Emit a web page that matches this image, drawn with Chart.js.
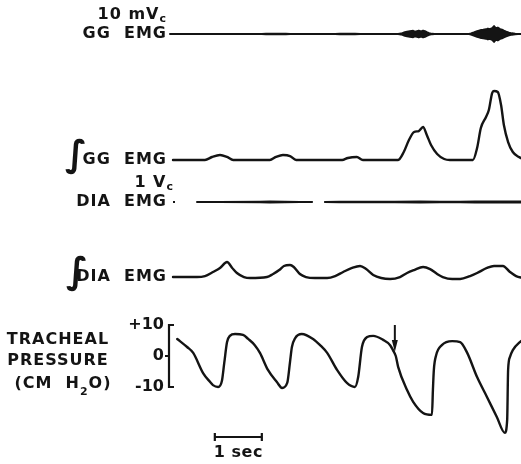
<!DOCTYPE html>
<html><head><meta charset="utf-8">
<script src="https://cdn.jsdelivr.net/npm/chart.js@4.4.1/dist/chart.umd.min.js"></script>
<style>html,body{margin:0;padding:0;background:#fff;overflow:hidden}canvas{display:block}</style>
</head><body>
<canvas id="c" width="521" height="464"></canvas>
<script>
// ---------- DATA (time in seconds) ----------
const ggEmgTime = [-0.06,1.89,1.98,2.11,2.23,2.40,2.49,3.45,3.55,3.72,3.87,3.98,4.79,4.85,4.91,4.98,5.04,5.11,5.15,5.19,5.23,5.28,5.32,5.36,5.40,5.45,5.51,5.57,6.28,6.34,6.40,6.47,6.53,6.60,6.66,6.70,6.74,6.79,6.83,6.87,6.91,6.96,7.00,7.04,7.09,7.15,7.21,7.28,7.34,7.45];
const ggEmgAmp  = [0,0,0.6,0.8,0.6,0.8,0,0,0.6,0.8,0.6,0,0,1.0,3.0,4.5,5.5,6.5,5.0,6.0,7.0,5.5,7.0,6.0,4.0,2.0,0.5,0,0,1.5,3.5,6.0,7.5,8.5,9.5,11,10,12,16,12,13,10,9,7,5,3,1.5,0.5,0,0]; // mV

const ggIntTime  = [0,0.68,0.83,1.0,1.15,1.28,2.06,2.19,2.34,2.49,2.62,3.60,3.72,3.91,4.04,4.79,4.91,5.02,5.13,5.23,5.32,5.40,5.49,5.62,5.77,5.89,6.38,6.47,6.55,6.66,6.72,6.79,6.83,6.91,6.98,7.04,7.13,7.23,7.36,7.45];
const ggIntValue = [0,0,0.43,0.71,0.43,0,0,0.43,0.71,0.57,0,0,0.29,0.43,0,0,1.14,2.86,4.0,4.14,4.71,3.57,2.14,0.86,0.14,0,0,1.71,4.57,6.14,7.14,9.57,9.86,9.71,7.86,5.0,2.57,1.14,0.43,0.14];

const diaEmgTime = [0.51,1.0,1.85,2.06,2.38,2.70,2.83,2.96,3.05,3.23,3.55,3.98,4.72,5.26,5.68,6.11,6.43,6.96,7.45];
const diaEmgAmp  = [0.01,0.015,0.02,0.03,0.025,0.01,0.005,0.005,null,0.01,0.02,0.02,0.025,0.03,0.02,0.02,0.03,0.035,0.03]; // V

const diaIntTime  = [0,0.51,0.68,0.85,1.0,1.15,1.26,1.36,1.51,1.64,2.0,2.13,2.26,2.36,2.49,2.57,2.70,2.83,3.02,3.28,3.45,3.62,3.81,3.98,4.11,4.26,4.43,4.62,4.83,4.98,5.13,5.32,5.47,5.62,5.74,5.94,6.11,6.32,6.47,6.68,6.83,6.89,7.02,7.17,7.30,7.45];
const diaIntValue = [1.4,1.4,2.1,5.0,7.9,12.1,7.9,4.3,1.4,0.7,1.4,3.6,6.4,9.3,10.0,8.6,3.6,1.4,0.7,0.7,2.1,5.0,7.9,9.3,7.1,2.9,0.7,0,1.4,4.3,6.4,8.6,7.1,3.6,1.4,0,0,2.1,4.3,7.9,9.3,9.3,9.3,5.0,2.1,0.7];

const pressureTime  = [0.09,0.30,0.43,0.64,0.79,0.85,0.96,1.04,1.09,1.15,1.21,1.32,1.49,1.60,1.74,1.85,2.02,2.21,2.32,2.43,2.49,2.53,2.60,2.74,2.98,3.13,3.28,3.49,3.70,3.87,3.94,4.02,4.13,4.26,4.47,4.62,4.68,4.74,4.79,4.98,5.11,5.32,5.51,5.53,5.55,5.60,5.72,5.94,6.11,6.26,6.47,6.68,6.89,7.06,7.11,7.13,7.17,7.23,7.38,7.45];
const pressureValue = [5.5,2.9,1.0,-5.5,-8.4,-9.4,-10.0,-8.1,-2.3,4.5,6.5,7.1,6.8,5.5,3.5,1.0,-4.5,-8.4,-10.3,-8.7,-1.9,2.9,5.8,7.1,5.5,3.5,1.0,-4.5,-8.7,-10.0,-6.8,2.9,6.1,6.5,5.2,3.5,1.9,0,-3.5,-11.0,-14.8,-18.4,-19.0,-11.0,-4.5,0.3,3.5,4.8,4.5,1.0,-6.8,-13.2,-19.7,-24.8,-20.6,-4.5,-0.3,1.9,4.5,5.2]; // cm H2O

const pressureTicks      = [10, 0, -10];
const pressureTickLabels = ['+10', '0', '-10'];
const arrowTime = 4.72, arrowFromP = 10.0, arrowToP = 1.3;
const scaleBarStart = 0.89, scaleBarLength = 1; // seconds

// ---------- LAYOUT (positions / sizes / styles) ----------
const W = 521, H = 464;
const X0 = 173, PX_PER_S = 47;
const lanes = {
  yGG:    {zero: 34,  k: 0.5},
  yGGI:   {zero: 160, k: 7},
  yDIA:   {zero: 202, k: 20},
  yDIAI:  {zero: 279, k: 1.4},
  yP:     {zero: 356, k: 3.1}
};
const INK = '#141414';
const FONT = '"DejaVu Sans", sans-serif';
const FS = 16, LS = 1;

function laneAxis(l){ return {type:'linear', display:false, min:-(H-l.zero)/l.k, max:l.zero/l.k}; }
const pts = (ts, vs, s=1) => ts.map((t,i)=>({x:t, y: vs[i]==null ? null : s*vs[i]}));
const base = {pointRadius:0, borderColor:INK, backgroundColor:INK, fill:false, spanGaps:false, borderCapStyle:'round', borderJoinStyle:'round'};

const annot = {
  id:'annot',
  afterDraw(chart){
    const {ctx, scales} = chart;
    const x = scales.x;
    ctx.save();
    ctx.fillStyle = INK; ctx.strokeStyle = INK;
    const txt = (s, px, py, align, size=FS, ls=LS, weight='bold') => {
      ctx.font = `${weight} ${size}px ${FONT}`; ctx.letterSpacing = ls+'px';
      ctx.textAlign = align; ctx.textBaseline = 'middle'; ctx.fillText(s, px, py);
    };
    const withSub = (main, sub, right, mid) => {
      ctx.font = `bold 11px ${FONT}`; ctx.letterSpacing='0px';
      const sw = ctx.measureText(sub).width;
      ctx.textAlign='right'; ctx.textBaseline='alphabetic';
      ctx.fillText(sub, right, mid+7);
      txt(main, right-sw, mid, 'right');
    };
    const yG = scales.yGG.getPixelForValue(0);
    const yGI = scales.yGGI.getPixelForValue(0);
    const yD = scales.yDIA.getPixelForValue(0);
    const yDI = scales.yDIAI.getPixelForValue(diaIntValue[0]);
    const R = 167;
    // GG EMG
    withSub('10 mV', 'c', 166, yG-19);
    txt('GG  EMG', R, yG, 'right');
    // integrated GG
    txt('GG  EMG', R, yGI, 'right');
    txt('\u222B', 76, yGI-3, 'center', 36, 0);
    // DIA EMG
    withSub('1 V', 'c', 173, yD-19);
    txt('DIA  EMG', R, yD, 'right');
    ctx.fillRect(173, yD-1, 2, 2);
    // integrated DIA
    txt('DIA  EMG', R, yDI, 'right');
    txt('\u222B', 77, yDI-3, 'center', 36, 0);
    // pressure axis
    const yP = scales.yP;
    pressureTicks.forEach((v,i)=> txt(pressureTickLabels[i], 164, yP.getPixelForValue(v), 'right', FS, 0));
    const top = yP.getPixelForValue(pressureTicks[0]), bot = yP.getPixelForValue(pressureTicks[2]), mid = yP.getPixelForValue(0);
    ctx.lineWidth = 2.2; ctx.beginPath();
    ctx.moveTo(174, top); ctx.lineTo(169, top); ctx.lineTo(169, bot); ctx.lineTo(174, bot);
    ctx.moveTo(165, mid); ctx.lineTo(169, mid);
    ctx.stroke();
    txt('TRACHEAL', 58, 340, 'center');
    txt('PRESSURE', 58, 361, 'center');
    // (CM H2O)
    ctx.font = `bold ${FS}px ${FONT}`; ctx.letterSpacing=LS+'px';
    const a='(CM  H', b='O)';
    const wa = ctx.measureText(a).width, wb = ctx.measureText(b).width;
    ctx.font = `bold 11px ${FONT}`; ctx.letterSpacing='0px'; const ws = ctx.measureText('2').width + 1;
    let sx = 63 - (wa+wb+ws)/2;
    txt(a, sx, 384, 'left');
    ctx.font = `bold 11px ${FONT}`; ctx.textAlign='left'; ctx.textBaseline='alphabetic'; ctx.letterSpacing='0px';
    ctx.fillText('2', sx+wa, 395);
    txt(b, sx+wa+ws, 384, 'left');
    // arrow
    const ax = x.getPixelForValue(arrowTime);
    const ay0 = yP.getPixelForValue(arrowFromP), ay1 = yP.getPixelForValue(arrowToP);
    ctx.lineWidth = 2; ctx.beginPath(); ctx.moveTo(ax, ay0); ctx.lineTo(ax, ay1-8); ctx.stroke();
    ctx.beginPath(); ctx.moveTo(ax-3, ay1-12); ctx.lineTo(ax+3, ay1-12); ctx.lineTo(ax, ay1); ctx.closePath(); ctx.fill();
    // scale bar
    const bx0 = x.getPixelForValue(scaleBarStart), bx1 = x.getPixelForValue(scaleBarStart+scaleBarLength);
    const by = 437;
    ctx.lineWidth = 2.2; ctx.beginPath();
    ctx.moveTo(bx0, by); ctx.lineTo(bx1, by);
    ctx.moveTo(bx0, by-4); ctx.lineTo(bx0, by+4);
    ctx.moveTo(bx1, by-4); ctx.lineTo(bx1, by+4);
    ctx.stroke();
    txt('1 sec', (bx0+bx1)/2, 453, 'center', FS, 0.5);
    ctx.restore();
  }
};

new Chart(document.getElementById('c'), {
  type:'line',
  data:{ datasets:[
    {...base, data:pts(ggEmgTime, ggEmgAmp, 1),  yAxisID:'yGG', fill:'+1', borderWidth:1.8, tension:0},
    {...base, data:pts(ggEmgTime, ggEmgAmp, -1), yAxisID:'yGG', borderWidth:1.8, tension:0},
    {...base, data:pts(ggIntTime, ggIntValue),   yAxisID:'yGGI', borderWidth:2.4, cubicInterpolationMode:'monotone'},
    {...base, data:pts(diaEmgTime, diaEmgAmp, 1),  yAxisID:'yDIA', fill:'+1', borderWidth:1.6, tension:0},
    {...base, data:pts(diaEmgTime, diaEmgAmp, -1), yAxisID:'yDIA', borderWidth:1.6, tension:0},
    {...base, data:pts(diaIntTime, diaIntValue), yAxisID:'yDIAI', borderWidth:2.4, cubicInterpolationMode:'monotone'},
    {...base, data:pts(pressureTime, pressureValue), yAxisID:'yP', borderWidth:2.4, cubicInterpolationMode:'monotone'}
  ]},
  options:{
    responsive:false, animation:false, devicePixelRatio:1, events:[],
    layout:{padding:0},
    plugins:{legend:{display:false}, tooltip:{enabled:false}, title:{display:false}},
    scales:{
      x:{type:'linear', display:false, min:-X0/PX_PER_S, max:(W-X0)/PX_PER_S},
      yGG:laneAxis(lanes.yGG), yGGI:laneAxis(lanes.yGGI), yDIA:laneAxis(lanes.yDIA),
      yDIAI:laneAxis(lanes.yDIAI), yP:laneAxis(lanes.yP)
    }
  },
  plugins:[annot]
});
</script>
</body></html>
